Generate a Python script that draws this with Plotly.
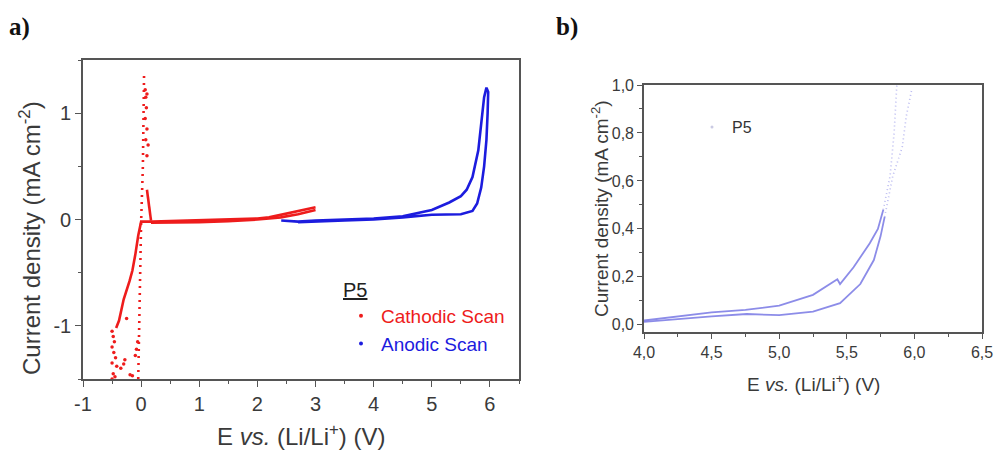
import plotly.graph_objects as go

# ---------------- Panel a data ----------------
# Cathodic scan (red) - continuous branches (None separates segments)
cath_line_x = [3.0, 2.8, 2.6, 2.4, 2.2, 2.0, 1.5, 1.0, 0.5, 0.2, 0.0, -0.05, -0.1, -0.15, -0.2, -0.3, -0.38, -0.43, None,
               0.17, 0.5, 1.0, 1.5, 2.0, 2.4, 2.7, 3.0, None,
               0.10, 0.17]
cath_line_y = [0.115, 0.09, 0.07, 0.04, 0.02, 0.01, 0.0, -0.01, -0.015, -0.02, -0.02, -0.15, -0.33, -0.48, -0.58, -0.75, -0.95, -1.02, None,
               -0.03, -0.03, -0.025, -0.015, 0.0, 0.02, 0.05, 0.09, None,
               0.28, -0.01]
# Cathodic scan - sparse vertical dotted branch
cath_dot_x = [-0.05, -0.02, 0.0, 0.03, 0.05]
cath_dot_y = [-1.5, -0.5, -0.02, 0.5, 1.35]
# Cathodic scan - scattered points
cath_pts_x = [0.07, 0.08, 0.10, 0.09, 0.07, 0.10, 0.08, 0.12, 0.10,
              -0.50, -0.48, -0.46, -0.50, -0.47, -0.44, -0.50, -0.42, -0.48, -0.50, -0.45,
              -0.25, -0.28, -0.08, -0.19, -0.06, -0.15, -0.10, -0.30, -0.35]
cath_pts_y = [1.22, 1.15, 1.18, 1.05, 0.95, 0.85, 0.75, 0.70, 0.60,
              -1.05, -1.10, -1.15, -1.20, -1.25, -1.30, -1.35, -1.38, -1.45, -1.50, -1.48,
              -0.93, -1.32, -1.22, -1.46, -1.15, -1.47, -1.28, -1.36, -1.40]

# Anodic scan (blue)
anod_x = [2.41, 2.7, 3.0, 3.5, 4.0, 4.5, 5.0, 5.3, 5.5, 5.6, 5.7, 5.8, 5.85, 5.9, 5.94,
          5.97, 5.96, 5.94, 5.9, 5.85, 5.78, 5.7, 5.5, 5.3, 5.0, 4.5, 4.0, 3.5, 3.0, 2.7]
anod_y = [-0.01, -0.02, -0.01, 0.0, 0.01, 0.03, 0.09, 0.16, 0.22, 0.28, 0.40, 0.65, 0.90, 1.15, 1.24,
          1.20, 1.00, 0.75, 0.50, 0.30, 0.15, 0.08, 0.05, 0.05, 0.045, 0.02, 0.0, -0.01, -0.02, -0.025]

a_xticks = [-1, 0, 1, 2, 3, 4, 5, 6]
a_xticklabels = ["-1", "0", "1", "2", "3", "4", "5", "6"]
a_yticks = [-1, 0, 1]
a_yticklabels = ["-1", "0", "1"]

# ---------------- Panel b data ----------------
b_up_x = [4.0, 4.25, 4.5, 4.75, 5.0, 5.25, 5.43, 5.45, 5.55, 5.67, 5.73, 5.77, 5.82, 5.85, 5.87]
b_up_y = [0.018, 0.035, 0.052, 0.062, 0.08, 0.125, 0.19, 0.17, 0.24, 0.34, 0.40, 0.48, 0.62, 0.80, 1.0]
b_lo_x = [4.0, 4.25, 4.5, 4.76, 5.0, 5.25, 5.45, 5.6, 5.7, 5.75, 5.78, 5.84, 5.91, 5.94, 5.98]
b_lo_y = [0.012, 0.025, 0.035, 0.045, 0.04, 0.055, 0.09, 0.17, 0.27, 0.37, 0.45, 0.62, 0.74, 0.87, 0.98]
b_split_up = 11   # index where the curve becomes sparse (dotted)
b_split_lo = 10

b_xticks = [4.0, 4.5, 5.0, 5.5, 6.0, 6.5]
b_xticklabels = ["4,0", "4,5", "5,0", "5,5", "6,0", "6,5"]
b_yticks = [0.0, 0.2, 0.4, 0.6, 0.8, 1.0]
b_yticklabels = ["0,0", "0,2", "0,4", "0,6", "0,8", "1,0"]

RED = "rgb(238,28,28)"
BLUE = "rgb(28,28,222)"
LAV = "rgba(120,120,228,0.85)"
LAV_LIGHT = "rgba(120,120,228,0.5)"
AX = "#555555"
TXT = "#3a3a3a"
FONT = "Liberation Sans, Arial, sans-serif"

fig = go.Figure()

# Panel a traces
fig.add_trace(go.Scatter(x=cath_line_x, y=cath_line_y, mode="lines", line=dict(color=RED, width=2.6),
                         showlegend=False, xaxis="x", yaxis="y", connectgaps=False))
fig.add_trace(go.Scatter(x=cath_dot_x, y=cath_dot_y, mode="lines", line=dict(color=RED, width=2.6, dash="2px,5px"),
                         showlegend=False, xaxis="x", yaxis="y"))
fig.add_trace(go.Scatter(x=cath_pts_x, y=cath_pts_y, mode="markers", marker=dict(color=RED, size=3.5),
                         showlegend=False, xaxis="x", yaxis="y"))
fig.add_trace(go.Scatter(x=anod_x, y=anod_y, mode="lines", line=dict(color=BLUE, width=2.6),
                         showlegend=False, xaxis="x", yaxis="y"))
# legend entries for panel a
fig.add_trace(go.Scatter(x=[None], y=[None], mode="markers", marker=dict(color=RED, size=4),
                         name='<span style="color:rgb(238,28,28)">Cathodic Scan</span>', legend="legend",
                         xaxis="x", yaxis="y"))
fig.add_trace(go.Scatter(x=[None], y=[None], mode="markers", marker=dict(color=BLUE, size=4),
                         name='<span style="color:rgb(28,28,222)">Anodic Scan</span>', legend="legend",
                         xaxis="x", yaxis="y"))

# Panel b traces
fig.add_trace(go.Scatter(x=b_up_x[:b_split_up + 1], y=b_up_y[:b_split_up + 1], mode="lines",
                         line=dict(color=LAV, width=1.8), showlegend=False, xaxis="x2", yaxis="y2"))
fig.add_trace(go.Scatter(x=b_up_x[b_split_up:], y=b_up_y[b_split_up:], mode="lines",
                         line=dict(color=LAV_LIGHT, width=1.6, dash="1px,3px"),
                         showlegend=False, xaxis="x2", yaxis="y2"))
fig.add_trace(go.Scatter(x=b_lo_x[:b_split_lo + 1], y=b_lo_y[:b_split_lo + 1], mode="lines",
                         line=dict(color=LAV, width=1.8), showlegend=False, xaxis="x2", yaxis="y2"))
fig.add_trace(go.Scatter(x=b_lo_x[b_split_lo:], y=b_lo_y[b_split_lo:], mode="lines",
                         line=dict(color=LAV_LIGHT, width=1.6, dash="1px,3px"),
                         showlegend=False, xaxis="x2", yaxis="y2"))
fig.add_trace(go.Scatter(x=[None], y=[None], mode="markers", marker=dict(color="rgba(150,150,200,0.5)", size=3),
                         name="P5", legend="legend2", xaxis="x2", yaxis="y2"))

common_axis = dict(showline=True, mirror=True, linecolor=AX, linewidth=1.6, ticks="outside",
                   tickcolor=AX, tickwidth=1.4, showgrid=False, zeroline=False, automargin=False)

fig.update_layout(
    width=995, height=452,
    margin=dict(l=0, r=0, t=0, b=0, autoexpand=False),
    paper_bgcolor="white", plot_bgcolor="white",
    font=dict(family=FONT, color=TXT),
    xaxis=dict(domain=[83 / 995, 519 / 995], range=[-1, 6.5], anchor="y",
               tickmode="array", tickvals=a_xticks, ticktext=a_xticklabels, ticklen=6,
               tickfont=dict(size=20, color=TXT),
               minor=dict(dtick=0.5, tick0=0, ticks="outside", ticklen=3, tickcolor=AX),
               **common_axis),
    yaxis=dict(domain=[1 - 379 / 452, 1 - 60 / 452], range=[-1.5, 1.5], anchor="x",
               tickmode="array", tickvals=a_yticks, ticktext=a_yticklabels, ticklen=6,
               tickfont=dict(size=20, color=TXT),
               minor=dict(dtick=0.5, tick0=0, ticks="outside", ticklen=3, tickcolor=AX),
               **common_axis),
    xaxis2=dict(domain=[644 / 995, 982 / 995], range=[4.0, 6.5], anchor="y2",
                tickmode="array", tickvals=b_xticks, ticktext=b_xticklabels, ticklen=5,
                tickfont=dict(size=16, color=TXT),
                minor=dict(dtick=0.25, tick0=4, ticks="outside", ticklen=3, tickcolor=AX),
                **common_axis),
    yaxis2=dict(domain=[1 - 332 / 452, 1 - 85 / 452], range=[-0.03, 1.0], anchor="x2",
                tickmode="array", tickvals=b_yticks, ticktext=b_yticklabels, ticklen=5,
                tickfont=dict(size=16, color=TXT),
                minor=dict(dtick=0.1, tick0=0, ticks="outside", ticklen=3, tickcolor=AX),
                **common_axis),
    legend=dict(x=341 / 995, y=1 - 271 / 452, xanchor="left", yanchor="top",
                bgcolor="rgba(0,0,0,0)", font=dict(size=19, family=FONT),
                title=dict(text="<u>P5</u>", font=dict(size=20, color="#222222", family=FONT)),
                itemwidth=30, tracegroupgap=0),
    legend2=dict(x=692 / 995, y=1 - 110 / 452, xanchor="left", yanchor="top",
                 bgcolor="rgba(0,0,0,0)", font=dict(size=16, color="#333333", family=FONT),
                 itemwidth=30),
)

annotations = [
    dict(text="<b>a)</b>", x=7 / 995, y=1 - 27 / 452, xref="paper", yref="paper", xanchor="left",
         yanchor="middle", showarrow=False, font=dict(family="Liberation Serif, serif", size=25, color="#111111")),
    dict(text="<b>b)</b>", x=554 / 995, y=1 - 27 / 452, xref="paper", yref="paper", xanchor="left",
         yanchor="middle", showarrow=False, font=dict(family="Liberation Serif, serif", size=25, color="#111111")),
    dict(text="E <i>vs.</i> (Li/Li<sup>+</sup>) (V)", x=301 / 995, y=1 - 435 / 452, xref="paper", yref="paper",
         xanchor="center", yanchor="middle", showarrow=False, font=dict(size=24, color=TXT)),
    dict(text="Current density (mA cm<sup>-2</sup>)", x=30 / 995, y=1 - 238 / 452, xref="paper", yref="paper",
         xanchor="center", yanchor="middle", textangle=-90, showarrow=False, font=dict(size=24, color=TXT)),
    dict(text="E <i>vs.</i> (Li/Li<sup>+</sup>) (V)", x=813 / 995, y=1 - 383 / 452, xref="paper", yref="paper",
         xanchor="center", yanchor="middle", showarrow=False, font=dict(size=19, color=TXT)),
    dict(text="Current density (mA cm<sup>-2</sup>)", x=600 / 995, y=1 - 209 / 452, xref="paper", yref="paper",
         xanchor="center", yanchor="middle", textangle=-90, showarrow=False, font=dict(size=19, color=TXT)),
]
fig.update_layout(annotations=annotations)

fig.write_html("out.html")
